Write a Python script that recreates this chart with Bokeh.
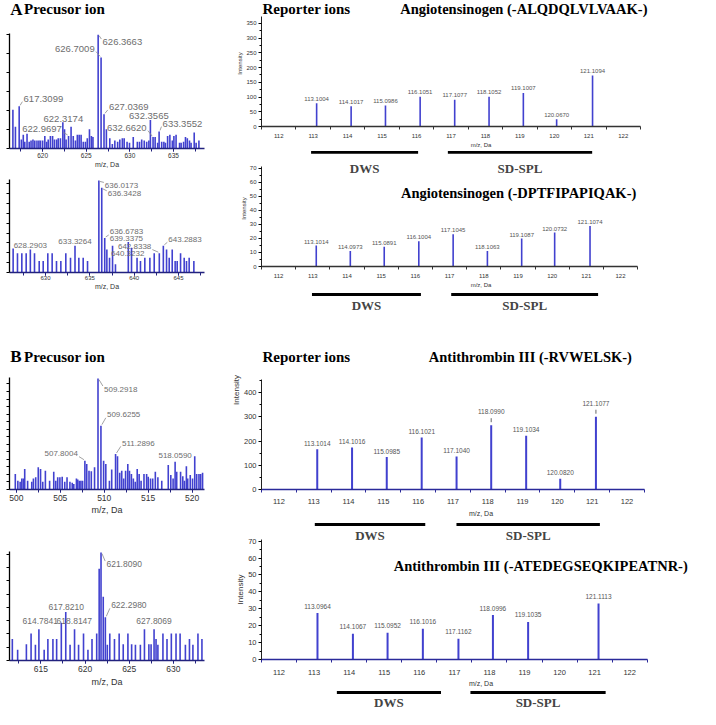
import numpy as np
from bokeh.plotting import figure
from bokeh.layouts import row, column
from bokeh.models import (FixedTicker, CustomJSTickFormatter, Label, BoxAnnotation,
                          Range1d, ColumnDataSource)
from bokeh.core.properties import value
from bokeh.embed import file_html
from bokeh.resources import INLINE

# ===================== DATA =====================
# Panel A, precursor spectrum 1 (m/z, intensity in % of base peak)
a1_mz = [616.59, 616.88, 617.3099, 617.56, 617.78, 617.95, 618.21, 618.46, 618.67, 618.89,
         619.10, 619.35, 619.57, 619.75, 620.00, 620.25, 620.46, 620.64, 620.89, 621.14,
         621.36, 621.61, 621.79, 622.04, 622.3174, 622.51, 622.69, 622.9697, 623.26, 623.51,
         623.76, 623.98, 624.19, 624.41, 624.66, 624.91, 625.12, 625.37, 625.59, 625.77,
         626.3663, 626.7009, 627.0369, 627.31, 627.70, 627.99, 628.28, 628.60, 628.85, 629.14,
         629.35, 629.68, 629.96, 630.39, 630.86, 631.11, 631.36, 631.65, 631.93, 632.18,
         632.3565, 632.6620, 632.90, 633.19, 633.3552, 633.65, 633.90, 634.08, 634.33, 634.59,
         634.87, 635.05, 635.30, 635.70, 635.88, 636.16, 636.38, 636.59, 636.84, 637.02,
         637.38, 637.60, 637.92]
a1_int = [34, 19, 37, 8, 12, 6, 13, 6, 7, 8,
          7, 7, 7, 7, 7, 11, 6, 8, 11, 11,
          8, 8, 9, 9, 23, 17, 8, 11, 19, 11,
          7, 12, 12, 12, 6, 6, 9, 17, 11, 10,
          100, 80, 30, 17, 9, 4, 7, 6, 8, 9,
          9, 6, 5, 10, 6, 6, 8, 7, 6, 7,
          25, 10, 10, 5, 15, 6, 6, 5, 11, 12,
          7, 11, 12, 5, 5, 6, 10, 9, 7, 5,
          14, 5, 7]
a1_labels = [617.3099, 622.9697, 622.3174, 626.7009, 626.3663, 627.0369, 632.3565, 632.6620, 633.3552]

# Panel A, precursor spectrum 2
a2_mz = [626.35, 626.84, 627.33, 627.82, 628.2903, 628.76, 629.29, 629.74, 630.26, 630.75,
         631.24, 631.73, 632.29, 632.82, 633.3264, 633.76, 634.25, 634.74, 636.0173, 636.3428,
         636.6783, 636.92, 637.22, 637.56, 637.89, 639.3375, 639.70, 640.3232, 640.71, 641.20,
         641.77, 642.26, 642.8338, 643.2883, 643.65, 643.95, 644.29, 644.62, 644.85, 645.23,
         645.64, 645.90, 646.20, 646.73]
a2_int = [26, 21, 21, 21, 25, 21, 12.5, 12.5, 21, 21,
          12.5, 12.5, 21, 16, 29, 16, 16, 12.5, 100, 92,
          37.5, 25, 16, 29, 9, 33, 27, 16, 12.5, 16,
          16, 21, 21, 29, 25, 16, 25, 12.5, 12.5, 21,
          16, 12.5, 16, 12.5]
a2_labels = [628.2903, 633.3264, 636.0173, 636.3428, 636.6783, 639.3375, 642.8338, 640.3232, 643.2883]

# Panel B, precursor spectrum 1
b1_mz = [499.89, 500.18, 500.44, 500.63, 500.81, 500.96, 501.29, 501.76, 501.95, 502.21,
         502.50, 502.76, 503.01, 503.31, 503.79, 504.26, 504.49, 504.71, 504.96, 505.22,
         505.51, 505.77, 506.10, 506.36, 506.54, 506.84, 506.99, 507.17, 507.35, 507.54,
         507.8004, 508.01, 508.27, 508.53, 508.90, 509.2918, 509.6255, 509.93, 510.18, 510.59,
         510.85, 511.2896, 511.51, 511.76, 511.99, 512.21, 512.43, 512.68, 512.87, 513.09,
         513.31, 513.53, 513.75, 513.97, 514.19, 514.52, 514.82, 515.00, 515.26, 515.51,
         515.81, 516.10, 516.54, 517.28, 517.57, 517.83, 518.0590, 518.24, 518.68, 518.93,
         519.12, 519.34, 519.49, 519.78, 520.04, 520.29, 520.51, 520.77, 520.96, 521.18]
b1_int = [14, 8, 7, 10, 10, 18.5, 8, 7, 10, 11,
          20, 18.5, 7, 17, 8, 16, 8, 11, 11, 11.6,
          7, 11, 7, 6, 5, 10, 9, 8, 8, 8,
          26, 23, 17, 16.4, 20, 100, 57.6, 26, 23, 8,
          18, 32, 30, 15, 17, 10, 17, 23, 17, 14,
          10, 7, 18.5, 14, 8, 14, 14, 11.6, 10, 10,
          16, 11, 8, 22, 13, 10, 25, 16, 16, 12,
          8, 21, 10, 13, 10, 30, 14, 14, 14, 15]
b1_labels = [507.8004, 509.2918, 509.6255, 511.2896, 518.0590]

# Panel B, precursor spectrum 2
b2_mz = [611.78, 612.38, 613.37, 613.90, 614.39, 614.7841, 615.38, 615.80, 616.37, 616.79,
         617.32, 617.8210, 618.31, 618.8147, 619.27, 619.83, 620.33, 620.79, 621.32, 621.60,
         621.8090, 622.06, 622.2980, 622.52, 622.80, 623.33, 623.86, 624.32, 624.85, 625.27,
         625.70, 626.26, 626.72, 627.22, 627.47, 627.8069, 628.03, 628.24, 628.81, 629.27,
         629.76, 630.29, 630.75, 631.35, 631.81, 632.20, 632.77, 633.22]
b2_int = [20, 10, 15, 25, 14.5, 29, 10, 20, 20, 20,
          35, 45, 14.5, 29, 14.5, 25, 10, 20, 25, 85,
          100, 59, 40, 14.5, 25, 20, 25, 15, 25, 15,
          14.5, 14.5, 29, 15, 15, 29, 20, 14.5, 25, 20,
          25, 25, 25, 14.5, 20, 14.5, 25, 20]
b2_labels = [614.7841, 617.8210, 618.8147, 621.8090, 622.2980, 627.8069]

# Reporter ion spectra (m/z, intensity)
a3_mz = [113.1004, 114.1017, 115.0986, 116.1051, 117.1077, 118.1052, 119.1007, 120.0670, 121.1094]
a3_int = [79, 69, 71, 101, 91, 101, 114, 25, 173]
a4_mz = [113.1014, 114.0973, 115.0891, 116.1004, 117.1045, 118.1063, 119.1087, 120.0732, 121.1074]
a4_int = [14.9, 11.1, 14.0, 18.0, 23.0, 11.1, 19.9, 24.2, 28.9]
b3_mz = [113.1014, 114.1016, 115.0985, 116.1021, 117.1040, 118.0990, 119.1034, 120.0820, 121.1077]
b3_int = [167, 174, 134, 215, 137, 266, 222, 44, 301]
b4_mz = [113.0964, 114.1067, 115.0952, 116.1016, 117.1162, 118.0996, 119.1035, 121.1113]
b4_int = [27.5, 15.2, 15.8, 18.2, 12.3, 26.3, 22.2, 33.1]

# Reporter channel groups
group_names = ["DWS", "SD-SPL"]
a_group_start = [112.95, 116.95]
a_group_end = [116.08, 121.17]
b_group_start = [113.02, 117.06]
b_group_end = [116.17, 121.15]

titles = ["Angiotensinogen (-ALQDQLVLVAAK-)", "Angiotensinogen (-DPTFIPAPIQAK-)",
          "Antithrombin III (-RVWELSK-)", "Antithrombin III (-ATEDEGSEQKIPEATNR-)"]

# ===================== STYLE =====================
BAR = "#4141cf"
NAVY = "#22227e"
LGRAY = "#6e6e6e"
SANS = "Liberation Sans"
SERIF = "Liberation Serif"

# label placement (align, dx px, dy px) relative to the peak top
a1_lstyle = [("left", 4.4, -7.7), ("right", -6.7, -6.7), ("center", 0.5, -3.7), ("right", -6.4, -8.8),
             ("left", 4.4, 7.4), ("left", 5, -7.4), ("center", -1.5, -4), ("right", -6.5, -9.5),
             ("left", 3.5, -7.8)]
a2_lstyle = [("center", 0, -4), ("center", 0, -4), ("left", 6, 5), ("left", 6, 6), ("left", 5, -6),
             ("left", -18.6, -3.5), ("right", -8, -6.6), ("left", -26, -4.5), ("left", 5, -6.5)]
b1_lstyle = [("right", -7, -7), ("left", 6, 10.4), ("left", 6, -10.8), ("left", 6.4, -10.7),
             ("center", 0, -6.5)]
b2_lstyle = [("center", 1.3, -8.2), ("center", 0.5, -5.2), ("center", -0.2, -8.2), ("left", 5.4, 11.5),
             ("left", 5.8, -12), ("center", 0, -8.2)]
# which labels carry a small leader line to their peak
a1_lead = [0, 1, 3, 4, 5, 7, 8]
a2_lead = [2, 3, 4, 6, 8]
b1_lead = [0, 1, 2, 3]
b2_lead = [3, 4]


class Spec:
    """Page-pixel geometry of one figure: canvas origin/size, frame box, data ranges."""
    def __init__(self, ox, oy, w, h, frame, xr, yr):
        self.ox, self.oy, self.w, self.h = ox, oy, w, h
        self.fx0, self.fy0, self.fx1, self.fy1 = frame
        self.xr, self.yr = xr, yr

    def X(self, px):
        return self.xr[0] + (px - self.fx0) * (self.xr[1] - self.xr[0]) / (self.fx1 - self.fx0)

    def Y(self, py):
        return self.yr[0] + (self.fy1 - py) * (self.yr[1] - self.yr[0]) / (self.fy1 - self.fy0)

    def upx(self):
        return (self.xr[1] - self.xr[0]) / (self.fx1 - self.fx0)

    def upy(self):
        return (self.yr[1] - self.yr[0]) / (self.fy1 - self.fy0)


def rep_spec(oy, h, fx0, fy0, fy1, ax_end_px, ytop_px, ymax):
    pxu = (ax_end_px - fx0) / 11.0
    xr = (111.5, 111.5 + (708 - fx0) / pxu)
    yr = (0, (fy1 - fy0) * ymax / (fy1 - ytop_px))
    return Spec(236, oy, 472, h, (fx0, fy0, 708, fy1), xr, yr)


# left column
LH1 = Spec(8, 8, 228, 22, (8, 8, 236, 30), (0, 228), (0, 22))
L1 = Spec(8, 30, 228, 150, (17, 41, 225, 156), (616.2, 638.56), (0, 101))
L2 = Spec(8, 180, 228, 160, (17, 187, 212, 280), (625.94, 647.93), (0, 101))
LH2 = Spec(8, 340, 228, 38, (8, 340, 236, 378), (0, 228), (0, 38))
L3 = Spec(8, 378, 228, 172, (17, 385, 218, 497), (499.23, 521.4), (0, 101))
L4 = Spec(8, 550, 228, 167, (17, 559, 225, 668), (611.46, 633.51), (0, 101))
# right column
R1 = rep_spec(8, 150, 262, 8, 138, 647, 25, 372)
R2 = rep_spec(158, 140, 261, 158, 279, 644, 175, 71)
R3 = rep_spec(298, 229, 262, 298, 497, 651, 387, 455)
R4 = rep_spec(527, 170, 263, 527, 667, 654, 547, 71)
_p4 = (654 - 263) / 11.0
R5 = Spec(236, 697, 472, 20, (236, 697, 708, 717),
          (111.5 - (263 - 236) / _p4, 111.5 + (708 - 263) / _p4), (0, 20))


def base_fig(s, axes=True):
    kw = {} if axes else dict(x_axis_location=None, y_axis_location=None)
    p = figure(width=s.w, height=s.h, x_range=Range1d(*s.xr), y_range=Range1d(*s.yr),
               output_backend="svg", toolbar_location=None,
               min_border_left=s.fx0 - s.ox, min_border_right=s.ox + s.w - s.fx1,
               min_border_top=s.fy0 - s.oy, min_border_bottom=s.oy + s.h - s.fy1, **kw)
    p.outline_line_color = None
    p.xgrid.visible = False
    p.ygrid.visible = False
    return p


def note(p, s, px, py, text, size, font=SERIF, style="bold", align="left", color="black"):
    p.add_layout(Label(x=s.X(px), y=s.Y(py), text=text, text_font=font, text_font_style=style,
                       text_font_size=f"{size}px", text_align=align, text_baseline="middle",
                       text_color=color))


def group_bar(p, s, x0, x1, py, thick=3):
    p.add_layout(BoxAnnotation(left=x0, right=x1, top=s.Y(py - thick / 2), bottom=s.Y(py + thick / 2),
                               fill_color="black", fill_alpha=1.0, line_color=None))


def group_name(p, s, x0, x1, py, text):
    p.add_layout(Label(x=0.5 * (x0 + x1), y=s.Y(py), text=text, text_font=SERIF,
                       text_font_style="bold", text_font_size="13px", text_align="center",
                       text_baseline="middle"))


def precursor(s, mz, inten, labs, lstyle, leads, xt, xminor, ystep, tick_fs, tick_so, lab_fs,
              axl_fs, axl_so):
    p = base_fig(s)
    p.segment(x0=mz, y0=0, x1=mz, y1=inten, line_color=BAR, line_width=1.6)
    hs = [inten[mz.index(m)] for m in labs]
    for align in ("left", "center", "right"):
        idx = [i for i, st in enumerate(lstyle) if st[0] == align]
        if not idx:
            continue
        src = ColumnDataSource(dict(x=[labs[i] for i in idx], y=[hs[i] for i in idx],
                                    t=[f"{labs[i]:.4f}" for i in idx],
                                    dx=[lstyle[i][1] for i in idx], dy=[lstyle[i][2] for i in idx]))
        p.text(x="x", y="y", text="t", x_offset="dx", y_offset="dy", source=src,
               text_align=align, text_baseline="middle", text_font=value(SANS),
               text_font_size=f"{lab_fs}px", text_color=LGRAY)
    # leader lines (short diagonal strokes between peak top and its label)
    ux, uy = s.upx(), s.upy()
    lx0, ly0, lx1, ly1 = [], [], [], []
    for i in leads:
        _, dx, dy = lstyle[i]
        sx = 1 if dx > 0 else -1
        sy = 1 if dy > 0 else -1
        ex = dx - sx * 1.0 if abs(dx) < 10 else sx * 4.0
        ey = dy - sy * 3.0
        lx0.append(labs[i] + sx * 1.0 * ux)
        ly0.append(hs[i] - sy * 1.0 * uy)
        lx1.append(labs[i] + ex * ux)
        ly1.append(hs[i] - ey * uy)
    if leads:
        p.segment(x0=lx0, y0=ly0, x1=lx1, y1=ly1, line_color="#8a8a8a", line_width=0.8)
    ax = p.xaxis[0]
    ax.ticker = FixedTicker(ticks=xt, minor_ticks=xminor)
    ax.axis_line_color = NAVY
    ax.axis_line_width = 1.5
    ax.major_tick_line_color = NAVY
    ax.minor_tick_line_color = NAVY
    ax.major_tick_out = 3
    ax.major_tick_in = 0
    ax.minor_tick_out = 3
    ax.minor_tick_in = 0
    ax.major_label_text_font = SANS
    ax.major_label_text_font_size = f"{tick_fs}px"
    ax.major_label_text_color = "#333333"
    ax.major_label_standoff = tick_so
    ax.axis_label = "m/z, Da"
    ax.axis_label_text_font = SANS
    ax.axis_label_text_font_style = "normal"
    ax.axis_label_text_font_size = f"{axl_fs}px"
    ax.axis_label_text_color = "#333333"
    ax.axis_label_standoff = axl_so
    ay = p.yaxis[0]
    ay.ticker = FixedTicker(ticks=list(np.arange(0, 100.5, ystep)))
    ay.formatter = CustomJSTickFormatter(code="return ''")
    ay.axis_line_color = "black"
    ay.axis_line_width = 1.3
    ay.major_tick_line_color = "black"
    ay.major_tick_out = 3
    ay.major_tick_in = 0
    ay.minor_tick_line_color = None
    ay.major_label_standoff = 0
    return p


def reporter(s, mz, inten, ymax, ymaj, ymin, tick_fs, tick_so, axl_fs, axl_so, lab_fs, dys,
             xcolor, ylab_fs, bar_w):
    p = base_fig(s)
    p.segment(x0=mz, y0=0, x1=mz, y1=inten, line_color=BAR, line_width=bar_w)
    p.text(x=mz, y=inten, text=[f"{m:.4f}" for m in mz], y_offset=dys,
           text_align="center", text_baseline="middle", text_font=value(SANS),
           text_font_size=f"{lab_fs}px", text_color="#555555")
    ax = p.xaxis[0]
    ax.bounds = (111.5, 122.5)
    ax.ticker = FixedTicker(ticks=list(range(112, 123)), minor_ticks=[111.5 + i for i in range(12)])
    ax.axis_line_color = xcolor
    ax.axis_line_width = 1.5
    ax.major_tick_out = 0
    ax.major_tick_in = 0
    ax.minor_tick_line_color = xcolor
    ax.minor_tick_out = 3
    ax.minor_tick_in = 0
    ax.major_label_text_font = SANS
    ax.major_label_text_font_size = f"{tick_fs}px"
    ax.major_label_text_color = "#333333"
    ax.major_label_standoff = tick_so
    ax.axis_label = "m/z, Da"
    ax.axis_label_text_font = SANS
    ax.axis_label_text_font_style = "normal"
    ax.axis_label_text_font_size = f"{axl_fs}px"
    ax.axis_label_text_color = "#333333"
    ax.axis_label_standoff = axl_so
    ay = p.yaxis[0]
    ay.bounds = (0, ymax)
    ay.ticker = FixedTicker(ticks=ymaj, minor_ticks=ymin)
    ay.axis_line_color = "#222222"
    ay.major_tick_out = 3
    ay.major_tick_in = 0
    ay.minor_tick_out = 2
    ay.minor_tick_in = 0
    ay.major_label_text_font = SANS
    ay.major_label_text_font_size = f"{tick_fs}px"
    ay.major_label_text_color = "#333333"
    ay.major_label_standoff = 2
    ay.axis_label = "Intensity"
    ay.axis_label_text_font = SANS
    ay.axis_label_text_font_style = "normal"
    ay.axis_label_text_font_size = f"{ylab_fs}px"
    ay.axis_label_text_color = "#333333"
    ay.axis_label_standoff = 0
    return p


# ---------- headings (left) ----------
hA = base_fig(LH1, axes=False)
note(hA, LH1, 9, 16.5, "A", 17)
note(hA, LH1, 25, 16.5, "Precusor ion", 15)
hB = base_fig(LH2, axes=False)
note(hB, LH2, 9, 364, "B", 17)
note(hB, LH2, 25, 364, "Precusor ion", 15)

# ---------- precursor panels ----------
pA1 = precursor(L1, a1_mz, a1_int, a1_labels, a1_lstyle, a1_lead, [620, 625, 630, 635],
                [617.5 + 2.5 * i for i in range(9)], 100 / 6, 6.5, 1, 9.5, 7, 0)
pA2 = precursor(L2, a2_mz, a2_int, a2_labels, a2_lstyle, a2_lead, [630, 635, 640, 645],
                [627.5 + 2.5 * i for i in range(9)], 10.7, 6, 0, 8, 7, 0)
pB1 = precursor(L3, b1_mz, b1_int, b1_labels, b1_lstyle, b1_lead, [500, 505, 510, 515, 520],
                [500 + 2.5 * i for i in range(9)], 6.8, 8.5, 2, 8, 9, 1)
pB2 = precursor(L4, b2_mz, b2_int, b2_labels, b2_lstyle, b2_lead, [615, 620, 625, 630],
                [612.5 + 2.5 * i for i in range(9)], 12.3, 8.5, 2, 8.5, 9, 2)

# ---------- reporter panels ----------
pA3 = reporter(R1, a3_mz, a3_int, 372, list(range(0, 351, 50)), list(range(25, 371, 50)),
               6, 4, 6, 1, 6, -4.5, "#333333", 6, 1.6)
pA4 = reporter(R2, a4_mz, a4_int, 71, list(range(0, 71, 10)), list(range(5, 71, 10)),
               6, 4, 6, 1, 6, -4, "#333333", 6, 1.6)
b3_dy = [-13.5 if m in (118.0990, 121.1077) else -6 for m in b3_mz]
pB3 = reporter(R3, b3_mz, b3_int, 455, list(range(0, 401, 100)), list(range(50, 451, 100)),
               7.5, 6, 7, 3, 6.5, b3_dy, "#2a2a9a", 8, 2)
pB4 = reporter(R4, b4_mz, b4_int, 71, list(range(0, 71, 10)), list(range(5, 71, 10)),
               7.5, 7, 7, 2, 6.5, -7, "#2a2a9a", 8, 2)
pS = base_fig(R5, axes=False)

# small leader ticks above two labelled peaks in B3
lead = [i for i, m in enumerate(b3_mz) if m in (118.0990, 121.1077)]
upp = R3.upy()
pB3.segment(x0=[b3_mz[i] for i in lead], y0=[b3_int[i] + 3 * upp for i in lead],
            x1=[b3_mz[i] for i in lead], y1=[b3_int[i] + 7 * upp for i in lead],
            line_color="#666666", line_width=1)

# headings (right)
note(pA3, R1, 263, 16.5, "Reporter ions", 15)
note(pA3, R1, 403, 16.5, titles[0], 14.5)
note(pA4, R2, 403, 202, titles[1], 14.5)
note(pB3, R3, 263, 364, "Reporter ions", 15)
note(pB3, R3, 432, 364, titles[2], 14.5)
note(pB4, R4, 397, 573, titles[3], 14.5)

# channel group bars and names (drawn in the panel area just below each spectrum)
for k in range(2):
    group_bar(pA4, R2, a_group_start[k], a_group_end[k], 160)
    group_name(pA4, R2, a_group_start[k], a_group_end[k], 177, group_names[k])
    group_bar(pB3, R3, a_group_start[k], a_group_end[k], 302)
    group_name(pB3, R3, a_group_start[k], a_group_end[k], 312.5, group_names[k])
    group_bar(pB4, R4, b_group_start[k], b_group_end[k], 532)
    group_name(pB4, R4, b_group_start[k], b_group_end[k], 543, group_names[k])
    group_bar(pS, R5, b_group_start[k], b_group_end[k], 700)
    group_name(pS, R5, b_group_start[k], b_group_end[k], 710, group_names[k])

layout = row(column(hA, pA1, pA2, hB, pB1, pB2), column(pA3, pA4, pB3, pB4, pS))

with open("out.html", "w") as f:
    f.write(file_html(layout, INLINE))
